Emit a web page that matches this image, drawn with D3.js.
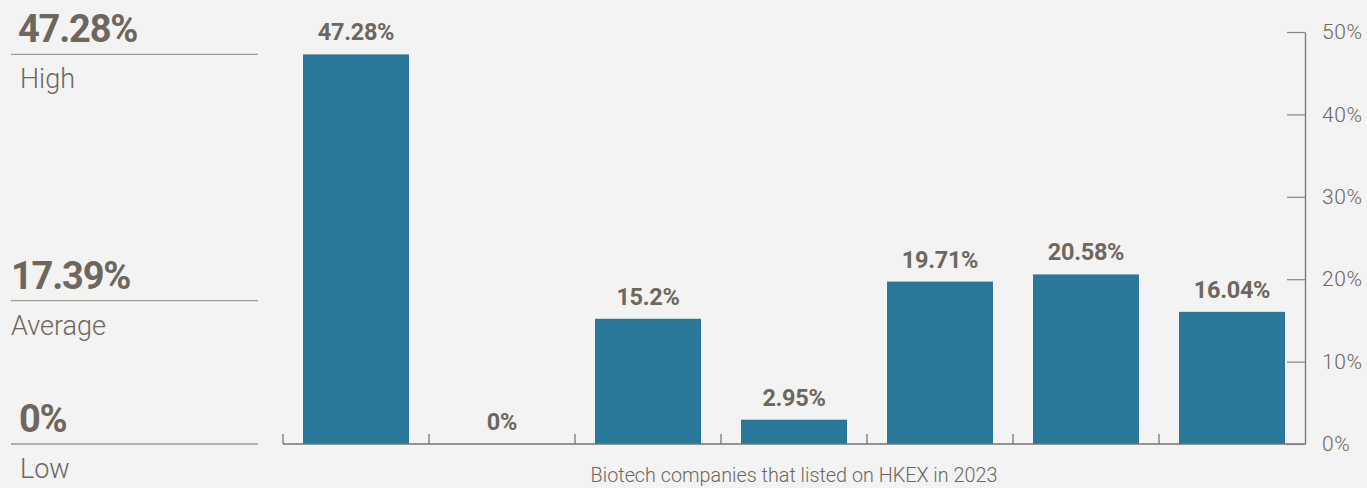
<!DOCTYPE html>
<html>
<head>
<meta charset="utf-8">
<script src="https://cdn.jsdelivr.net/npm/d3@7"></script>
<style>
  html, body { margin: 0; padding: 0; background: #f3f3f3; }
  svg { display: block; font-family: Roboto, "Helvetica Neue", Arial, sans-serif; }
</style>
</head>
<body>
<svg id="chart" width="1367" height="488"></svg>
<script>
// Biotech IPOs on HKEX in 2023: first-day return per company
const companies = ["Company 1", "Company 2", "Company 3", "Company 4", "Company 5", "Company 6", "Company 7"];
const returns = [47.28, 0, 15.2, 2.95, 19.71, 20.58, 16.04];
const yTicks = [0, 10, 20, 30, 40, 50];
const summaryLabels = ["High", "Average", "Low"];
const axisTitle = "Biotech companies that listed on HKEX in 2023";

const barColor = "#2a7899";
const textColor = "#6f665d";
const ruleColor = "#a39a92";

const svg = d3.select("#chart");

const plot = { left: 283, right: 1305, top: 32, bottom: 444 };

const x = d3.scaleBand()
  .domain(companies)
  .range([plot.left, plot.right])
  .padding(0);

const barPad = 20;

const y = d3.scaleLinear()
  .domain([0, 50])
  .range([plot.bottom, plot.top]);

const fmt = v => `${+v.toFixed(2)}%`;

// Bars
svg.append("g")
  .selectAll("rect")
  .data(returns)
  .join("rect")
  .attr("x", (d, i) => x(companies[i]) + barPad)
  .attr("width", x.bandwidth() - 2 * barPad)
  .attr("y", d => y(d))
  .attr("height", d => y(0) - y(d))
  .attr("fill", barColor);

// Value labels above bars
svg.append("g")
  .selectAll("text")
  .data(returns)
  .join("text")
  .attr("x", (d, i) => x(companies[i]) + x.bandwidth() / 2)
  .attr("y", d => y(d) - 14)
  .attr("text-anchor", "middle")
  .attr("fill", textColor)
  .attr("font-weight", 700)
  .attr("font-size", 23.5)
  .attr("letter-spacing", -0.3)
  .text(d => fmt(d));

// Bottom axis: baseline with upward ticks at band edges
const xAxis = svg.append("g").attr("stroke", "#7d736a").attr("stroke-width", 1.3);
xAxis.append("line")
  .attr("x1", plot.left).attr("x2", plot.right)
  .attr("y1", plot.bottom).attr("y2", plot.bottom);
const edges = companies.map(c => x(c));
xAxis.selectAll("line.tick")
  .data(edges)
  .join("line")
  .attr("class", "tick")
  .attr("x1", d => d).attr("x2", d => d)
  .attr("y1", plot.bottom - 10).attr("y2", plot.bottom);

// Right axis
const yAxis = d3.axisRight(y)
  .tickValues(yTicks)
  .tickSize(0)
  .tickPadding(17)
  .tickFormat(d => d + "%");

const yG = svg.append("g")
  .attr("transform", `translate(${plot.right},0)`)
  .call(yAxis);
yG.select(".domain").attr("stroke", "#7d736a").attr("stroke-width", 1.3);
yG.selectAll(".tick text")
  .attr("fill", textColor)
  .attr("font-size", 21)
  .attr("font-weight", 300)
  .attr("letter-spacing", 0.6)
  .attr("font-family", "Roboto, sans-serif");
yG.selectAll(".tick")
  .append("line")
  .attr("x1", -18).attr("x2", 0)
  .attr("stroke", "#8d847b")
  .attr("stroke-width", 1.2);

// Axis title
svg.append("text")
  .attr("x", (plot.left + plot.right) / 2)
  .attr("y", 482)
  .attr("text-anchor", "middle")
  .attr("fill", textColor)
  .attr("font-size", 19.8)
  .attr("font-weight", 300)
  .text(axisTitle);

// Summary panel on the left: high, average, low
const high = d3.max(returns);
const avg = d3.mean(returns);
const low = d3.min(returns);
const summaryValues = [high, avg, low];
const valueX = [18, 11, 19];
const labelX = [20, 11, 20];

const summary = svg.append("g")
  .selectAll("g")
  .data(summaryValues)
  .join("g")
  .attr("transform", d => `translate(0,${y(d)})`);

summary.append("line")
  .attr("x1", 11).attr("x2", 258)
  .attr("y1", 0).attr("y2", 0)
  .attr("stroke", ruleColor)
  .attr("stroke-width", 1.3);

summary.append("text")
  .attr("x", (d, i) => valueX[i])
  .attr("y", -12)
  .attr("fill", textColor)
  .attr("font-size", 38)
  .attr("font-weight", 700)
  .attr("letter-spacing", -1.2)
  .text(d => fmt(d));

summary.append("text")
  .attr("x", (d, i) => labelX[i])
  .attr("y", 34)
  .attr("fill", textColor)
  .attr("font-size", 27)
  .attr("font-weight", 300)
  .text((d, i) => summaryLabels[i]);
</script>
</body>
</html>
